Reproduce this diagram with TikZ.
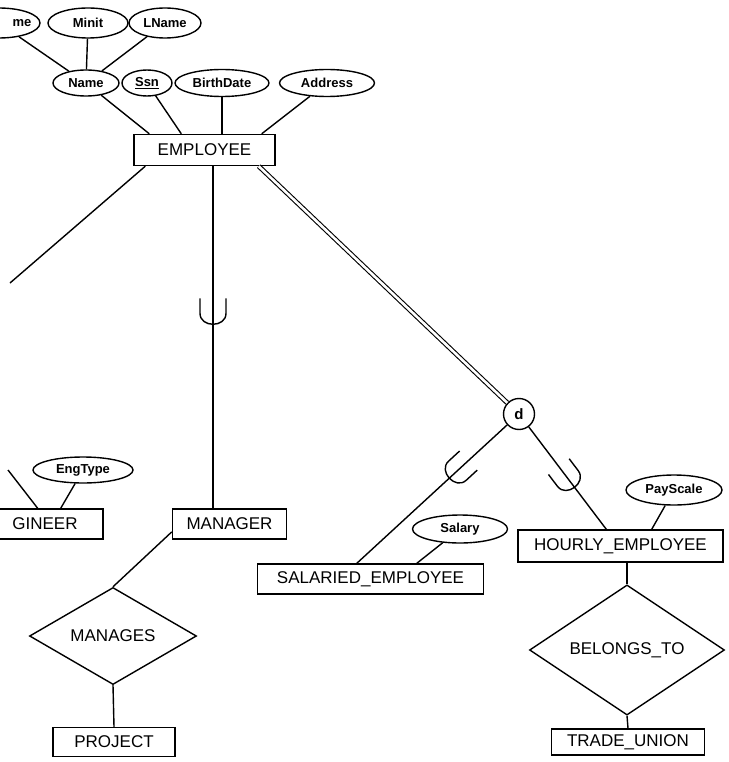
\documentclass[tikz,border=0pt]{standalone}
\usepackage{fontspec}
\setmainfont{Liberation Sans}
\usetikzlibrary{shapes.geometric,calc}
\newcommand{\ercup}[3]{%
  \path ($(#1)!#3!(#2)$) coordinate (cc)
        ($(cc)!15pt!(#1)$) coordinate (ct)
        ($(cc)!11pt!(#2)$) coordinate (cb)
        ($(cc)!13pt!90:(#1)$) coordinate (cl)
        ($(cc)!13pt!-90:(#1)$) coordinate (cr)
        ($(ct)!13pt!90:(#1)$) coordinate (ctl)
        ($(ct)!13pt!-90:(#1)$) coordinate (ctr);
  \draw (ctl) -- (cl) .. controls ($(cl)+1.33*(cb)-1.33*(cc)$) and ($(cr)+1.33*(cb)-1.33*(cc)$) .. (cr) -- (ctr);
}
\begin{document}
\begin{tikzpicture}[x=1pt,y=-1pt,line width=1.4pt,
  attr/.style={ellipse, draw, inner sep=0pt, font=\fontsize{13}{13}\selectfont\bfseries},
  attrtext/.style={inner sep=0pt, font=\fontsize{13}{13}\selectfont\bfseries},
  ent/.style={rectangle, draw, inner sep=0pt, font=\fontsize{17}{17}\selectfont},
  enttext/.style={inner sep=0pt, font=\fontsize{17}{17}\selectfont},
  rel/.style={diamond, draw, inner sep=0pt, font=\fontsize{17}{17}\selectfont},
  spec/.style={circle, draw, inner sep=0pt, minimum size=31pt, font=\fontsize{15}{15}\selectfont\bfseries},
  isa/.style={double, double distance=2.6pt, line width=1.1pt}
]
\path[fill=white] (0,0) rectangle (728,762);
\useasboundingbox (0,0) rectangle (728,762);
\clip (0,0) rectangle (728,762);

% attributes of EMPLOYEE
\node[attr, minimum width=82pt, minimum height=30pt] (fname) at (-1,23) {};
\node[attrtext] (fnametext) at (22,23) {me};
\node[attr, minimum width=80pt, minimum height=30pt] (minit) at (88,23) {Minit};
\node[attr, minimum width=72pt, minimum height=30pt] (lname) at (165,23) {LName};
\node[attr, minimum width=66pt, minimum height=26pt] (name) at (86,83) {Name};
\node[attr, minimum width=50pt, minimum height=26pt] (ssn) at (147,83) {\underline{Ssn}};
\node[attr, minimum width=94pt, minimum height=27pt] (birth) at (222,83) {BirthDate};
\node[attr, minimum width=95pt, minimum height=27pt] (address) at (327,83) {Address};

\node[ent, minimum width=141pt, minimum height=31pt] (employee) at (204.5,150) {EMPLOYEE};

% subclasses
\node[attr, minimum width=100pt, minimum height=26pt] (engtype) at (83,470) {EngType};
\node[ent, minimum width=133pt, minimum height=30pt] (engineer) at (36.5,524) {};
\node[enttext] (engtext) at (45,524) {GINEER};
\node[ent, minimum width=114pt, minimum height=30pt] (manager) at (229.5,524) {MANAGER};

\node[spec] (d) at (519,414) {d};

\node[attr, minimum width=95pt, minimum height=28pt] (salary) at (460,529) {Salary};
\node[ent, minimum width=226pt, minimum height=30pt] (salaried) at (370.5,579) {SALARIED\_EMPLOYEE};
\node[attr, minimum width=96pt, minimum height=30pt] (payscale) at (674,490) {PayScale};
\node[ent, minimum width=205pt, minimum height=32pt] (hourly) at (620.5,546) {HOURLY\_EMPLOYEE};

\node[rel, minimum width=167pt, minimum height=74pt] (manages) at (113,636) {MANAGES};
\node[ent, minimum width=122pt, minimum height=29pt] (project) at (114,742) {PROJECT};
\node[rel, minimum width=195pt, minimum height=100pt] (belongs) at (627,650) {BELONGS\_TO};
\node[ent, minimum width=153pt, minimum height=26pt] (union) at (628,742) {TRADE\_UNION};

% free ends
\coordinate (leftend) at (10,283);
\coordinate (engleft) at (8,470);
\coordinate (mx) at (213,0);

% attribute connectors
\draw (fname) -- (name);
\draw (minit) -- (name);
\draw (lname) -- (name);
\draw (name) -- ([xshift=16pt]employee.north west);
\draw (ssn) -- ([xshift=48pt]employee.north west);
\draw (birth) -- (birth |- employee.north);
\draw (address) -- ([xshift=-14pt]employee.north east);

% EMPLOYEE connectors
\draw ([xshift=12pt]employee.south west) -- (leftend);
\coordinate (mtop) at (employee.south -| mx);
\coordinate (mbot) at (manager.north -| mx);
\draw (mtop) -- (mbot);
\ercup{mtop}{mbot}{0.43}
\draw[isa] ([xshift=-17pt]employee.south east) -- (d);

% engineer
\draw (engleft) -- ([xshift=-66pt]engineer.north east);
\draw (engtype) -- ([xshift=-43pt]engineer.north east);

% specialization d
\coordinate (s1) at ([xshift=100pt]salaried.north west);
\coordinate (h1) at ([xshift=89pt]hourly.north west);
\draw (d) -- (s1);
\draw (d) -- (h1);
\ercup{d}{s1}{0.38}
\ercup{d}{h1}{0.56}
\draw (salary) -- ([xshift=160pt]salaried.north west);
\draw (payscale) -- ([xshift=-72pt]hourly.north east);

% relationships
\draw ($(manager.west)!0.5!(manager.south west)$) -- (manages.north);
\draw (manages.south) -- (project.north);
\draw (belongs.north) -- (belongs.north |- hourly.south);
\draw (belongs.south) -- (union.north);
\end{tikzpicture}
\end{document}
